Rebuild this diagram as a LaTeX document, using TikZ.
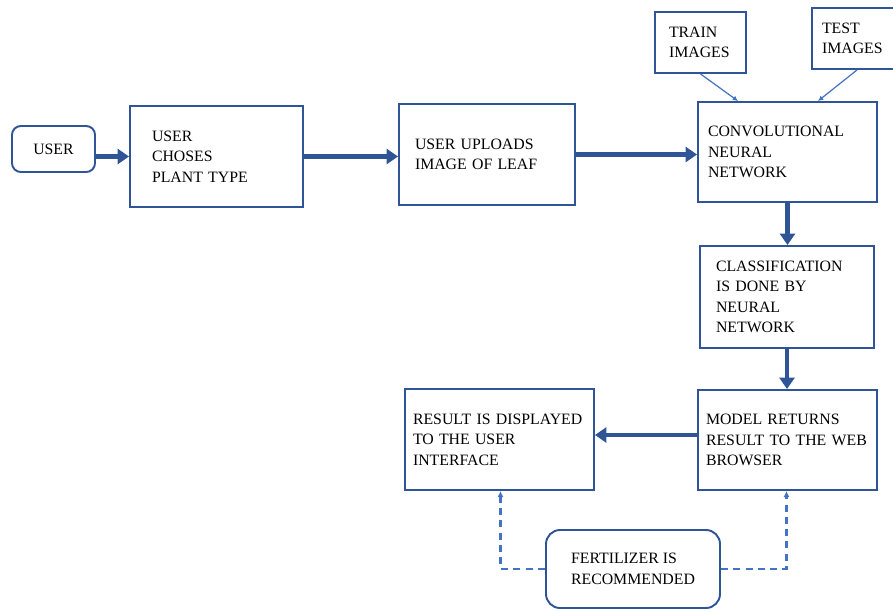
\documentclass[tikz,border=0pt]{standalone}
\usepackage{fontspec}
\setmainfont{Liberation Serif}
\usepackage{xcolor}
\usetikzlibrary{arrows.meta}
\usetikzlibrary{positioning}

\definecolor{boxblue}{HTML}{2F5597}
\definecolor{linkblue}{HTML}{4472C4}

\begin{document}
\begin{tikzpicture}[
stage/.style={draw=boxblue,line width=1.1pt,align=left,inner ysep=0pt,
  font=\fontsize{9}{11.7}\selectfont},
flow/.style={draw=boxblue,line width=2.3pt,-{Triangle[length=6.5pt,width=8.5pt]}},
feed/.style={draw=linkblue,line width=0.7pt,-{Latex[length=3pt,width=3pt]}},
hint/.style={draw=linkblue,line width=1.3pt,dash pattern=on 4pt off 3pt,-{Latex[length=3.5pt,width=3.5pt]}}
]
\useasboundingbox (0,0) rectangle (17.86,-12.2);
% boxes
\node[stage,rounded corners=5pt,align=center,minimum width=1.66cm,minimum height=0.92cm] (user) at (1.07,-2.98) {USER};
\node[stage,inner xsep=0.44cm,text width=2.58cm,minimum height=2.02cm] (choses) at (4.33,-3.13) {USER\\CHOSES\\PLANT TYPE};
\node[stage,inner xsep=0.32cm,text width=2.88cm,minimum height=2.02cm] (upload) at (9.74,-3.09) {USER UPLOADS\\IMAGE OF LEAF};
\node[stage,inner xsep=0.2cm,text width=3.18cm,minimum height=2.0cm] (cnn) at (15.75,-3.04) {CONVOLUTIONAL\\NEURAL\\NETWORK};
\node[stage,inner xsep=0.28cm,text width=1.26cm,minimum height=1.22cm] (train) at (14.01,-0.85) {TRAIN\\IMAGES};
\node[stage,inner xsep=0.2cm,text width=1.36cm,minimum height=1.22cm] (test) at (17.12,-0.77) {TEST\\IMAGES};
\node[stage,inner xsep=0.32cm,text width=2.84cm,minimum height=2.04cm] (class) at (15.74,-5.94) {CLASSIFICATION\\IS DONE BY\\NEURAL\\NETWORK};
\node[stage,inner xsep=0.16cm,text width=3.26cm,minimum height=2.0cm] (model) at (15.75,-8.8) {MODEL RETURNS\\RESULT TO THE WEB\\BROWSER};
\node[stage,inner xsep=0.16cm,text width=3.46cm,minimum height=2.02cm] (result) at (9.99,-8.79) {RESULT IS DISPLAYED\\TO THE USER\\INTERFACE};
\node[stage,rounded corners=8pt,minimum width=3.48cm,minimum height=1.56cm] (fert) at (12.66,-11.38) {FERTILIZER IS\\RECOMMENDED};
% main flow
\draw[flow] (user.east |- choses.west) -- (choses.west);
\draw[flow] (choses.east) -- (choses.east -| upload.west);
\draw[flow] (upload.east) -- (upload.east -| cnn.west);
\draw[flow] (cnn.south) -- (cnn.south |- class.north);
\draw[flow] (class.south) -- (class.south |- model.north);
\draw[flow] ([yshift=0.1cm]model.west) -- ([yshift=0.1cm]model.west -| result.east);
% image sets
\draw[feed] (train.south) -- ([xshift=-0.99cm]cnn.north);
\draw[feed] ([xshift=0.02cm]test.south) -- ([xshift=0.61cm]cnn.north);
% fertilizer
\draw[hint] (fert.west) -| ([xshift=0.02cm]result.south);
\draw[hint] (fert.east) -| ([xshift=-0.02cm]model.south);
\end{tikzpicture}
\end{document}
